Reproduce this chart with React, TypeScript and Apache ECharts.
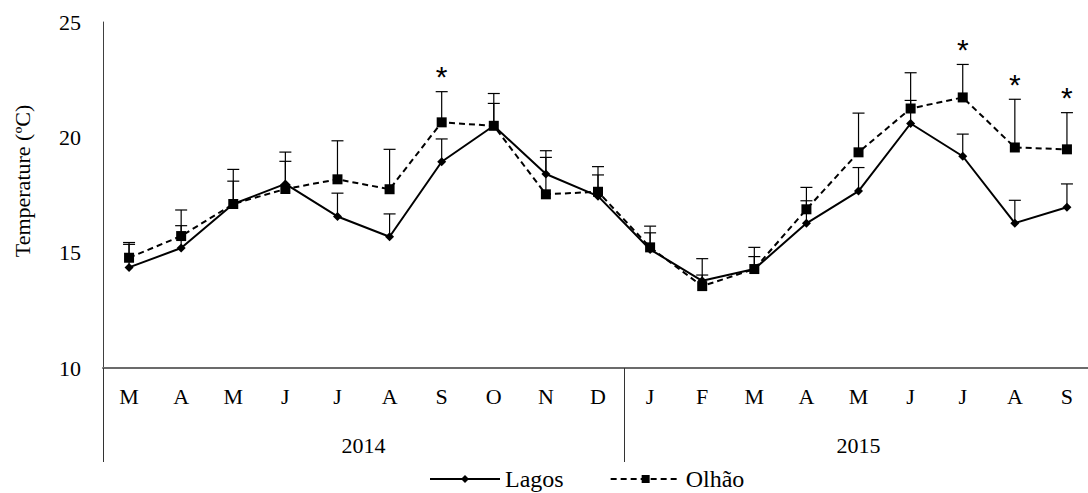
import React, { useEffect, useRef } from 'react';
import * as echarts from 'echarts';

// ---- data ----
const months = ['M', 'A', 'M', 'J', 'J', 'A', 'S', 'O', 'N', 'D', 'J', 'F', 'M', 'A', 'M', 'J', 'J', 'A', 'S'];
const years = ['2014', '2015'];
const monthsPerYear = [10, 9];
const yMin = 10;
const yMax = 25;
const yStep = 5;

const lagos = [14.36, 15.2, 17.11, 17.98, 16.57, 15.69, 18.94, 20.5, 18.41, 17.45, 15.14, 13.78, 14.29, 16.27, 17.67, 20.6, 19.18, 16.28, 16.97];
const lagosSD = [1.0, 0.97, 0.99, 0.98, 1.01, 0.99, 0.99, 0.97, 0.72, 0.92, 0.72, 0.25, 0.54, 0.98, 1.02, 1.0, 0.96, 0.99, 1.01];
const olhao = [14.78, 15.72, 17.11, 17.76, 18.18, 17.75, 20.65, 20.5, 17.53, 17.64, 15.23, 13.55, 14.29, 16.88, 19.35, 21.25, 21.73, 19.56, 19.48];
const olhaoSD = [0.66, 1.13, 1.5, 1.6, 1.67, 1.73, 1.33, 1.4, 1.89, 1.09, 0.92, 1.19, 0.94, 0.95, 1.7, 1.55, 1.43, 2.09, 1.59];
const significant = [6, 16, 17, 18];

const FONT = "Liberation Serif, Times New Roman, serif";

function errorSeries(values: number[], sd: number[]) {
  return {
    type: 'custom',
    silent: true,
    z: 1,
    data: values.map((v, i) => [i, v, +(v + sd[i]).toFixed(2)]),
    encode: { x: 0, y: [1, 2] },
    renderItem: (_params: any, api: any) => {
      const base = api.coord([api.value(0), api.value(1)]);
      const top = api.coord([api.value(0), api.value(2)]);
      return {
        type: 'group',
        children: [
          { type: 'line', shape: { x1: base[0], y1: base[1], x2: top[0], y2: top[1] }, style: { stroke: '#000', lineWidth: 1.2 } },
          { type: 'line', shape: { x1: top[0] - 6, y1: top[1], x2: top[0] + 6, y2: top[1] }, style: { stroke: '#000', lineWidth: 1.2 } },
        ],
      };
    },
  };
}

export default function App() {
  const ref = useRef<HTMLDivElement>(null);

  useEffect(() => {
    if (!ref.current) return;
    const chart = echarts.init(ref.current, undefined, { renderer: 'svg' });

    const total = months.length;
    const boundaries: number[] = [0];
    const mids: number[] = [];
    let acc = 0;
    monthsPerYear.forEach((n) => {
      mids.push(acc + n / 2);
      acc += n;
      boundaries.push(acc);
    });
    const innerBoundaries = boundaries.slice(0, boundaries.length - 1);

    chart.setOption({
      animation: false,
      backgroundColor: '#fff',
      textStyle: { fontFamily: FONT, color: '#000' },
      grid: { left: 103, right: 7, top: 22, bottom: 125, containLabel: false },
      legend: {
        data: [{ name: 'Lagos' }, { name: 'Olhão' }],
        left: 429,
        top: 467,
        padding: 0,
        itemWidth: 70,
        itemHeight: 10,
        itemGap: 46,
        textStyle: { fontFamily: FONT, fontSize: 24, color: '#000' },
      },
      xAxis: [
        {
          type: 'category',
          data: months,
          boundaryGap: true,
          axisLine: { show: true, lineStyle: { color: '#6b6b6b', width: 2 } },
          axisTick: { show: false },
          axisLabel: { color: '#000', fontFamily: FONT, fontSize: 22, margin: 17, interval: 0 },
          splitLine: { show: false },
        },
        {
          type: 'value',
          position: 'bottom',
          min: 0,
          max: total,
          axisLine: { show: false },
          axisTick: {
            show: true,
            inside: false,
            length: 94,
            customValues: innerBoundaries,
            lineStyle: { color: '#333', width: 1 },
          },
          axisLabel: {
            show: true,
            customValues: mids,
            margin: 66,
            color: '#000',
            fontFamily: FONT,
            fontSize: 22,
            formatter: (v: number) => {
              const idx = mids.findIndex((m) => Math.abs(m - v) < 1e-6);
              return idx >= 0 ? years[idx] : '';
            },
          },
          splitLine: { show: false },
        },
      ],
      yAxis: {
        type: 'value',
        min: yMin,
        max: yMax,
        interval: yStep,
        axisLine: { show: true, lineStyle: { color: '#404040', width: 1 } },
        axisTick: { show: false },
        axisLabel: { color: '#000', fontFamily: FONT, fontSize: 22, margin: 22 },
        splitLine: { show: false },
      },
      graphic: [
        {
          type: 'text',
          x: 22,
          y: 181,
          rotation: Math.PI / 2,
          style: {
            text: 'Temperature (ºC)',
            fontFamily: FONT,
            fontSize: 22,
            fill: '#000',
            align: 'center',
            verticalAlign: 'middle',
          },
        },
      ],
      series: [
        errorSeries(lagos, lagosSD),
        errorSeries(olhao, olhaoSD),
        {
          name: 'Lagos',
          type: 'line',
          data: lagos,
          z: 3,
          symbol: 'diamond',
          symbolSize: 9,
          lineStyle: { color: '#000', width: 2 },
          itemStyle: { color: '#000' },
        },
        {
          name: 'Olhão',
          type: 'line',
          data: olhao,
          z: 3,
          symbol: 'rect',
          symbolSize: 10,
          lineStyle: { color: '#000', width: 2, type: [6, 4] },
          itemStyle: { color: '#000' },
        },
        {
          type: 'custom',
          silent: true,
          z: 4,
          data: significant.map((i) => [i, +(olhao[i] + olhaoSD[i]).toFixed(2)]),
          encode: { x: 0, y: 1 },
          renderItem: (_params: any, api: any) => {
            const p = api.coord([api.value(0), api.value(1)]);
            return {
              type: 'text',
              x: p[0],
              y: p[1] - 15,
              style: {
                text: '*',
                fontFamily: 'Liberation Sans, Arial, sans-serif',
                fontSize: 30,
                fill: '#000',
                align: 'center',
                verticalAlign: 'middle',
              },
            };
          },
        },
      ],
    });

    return () => chart.dispose();
  }, []);

  return (
    <div style={{ position: 'fixed', left: 0, top: 0, width: 1088, height: 493, overflow: 'hidden', background: '#fff' }}>
      <div ref={ref} style={{ width: 1100, height: 493 }} />
    </div>
  );
}
